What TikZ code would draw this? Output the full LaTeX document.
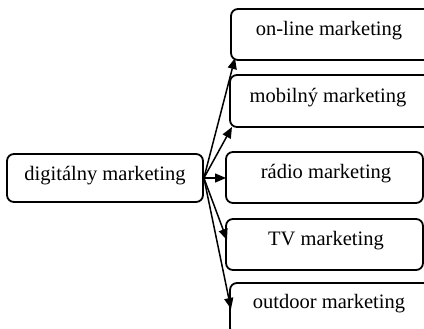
\documentclass[tikz,border=0pt]{standalone}
\usepackage{fontspec}
\setmainfont{Liberation Serif}
\usetikzlibrary{arrows.meta}
\begin{document}
\begin{tikzpicture}[x=1pt,y=-1pt,
  box/.style={draw=black,line width=1.8pt,rounded corners=7pt,inner sep=0pt},
  txt/.style={inner sep=0pt,font=\fontsize{20.5}{24}\selectfont},
  conn/.style={line width=1.5pt,-{Triangle[length=11pt,width=9pt]}}]
\useasboundingbox (0,0) rectangle (424,329);
\clip (0,0) rectangle (424,329);
\node[box,minimum width=196pt,minimum height=48pt] (dm) at (105,178) {};
\node[txt] (t0) at (105,176) {digitálny marketing};
\node[box,minimum width=200pt,minimum height=51pt] (b1) at (331,34.5) {};
\node[txt] (t1) at (329,30.5) {on-line marketing};
\node[box,minimum width=200pt,minimum height=52pt] (b2) at (330,101) {};
\node[txt] (t2) at (328,98) {mobilný marketing};
\node[box,minimum width=197pt,minimum height=51pt] (b3) at (324.5,177.5) {};
\node[txt] (t3) at (326,173.5) {rádio marketing};
\node[box,minimum width=197pt,minimum height=51pt] (b4) at (324.5,244.5) {};
\node[txt] (t4) at (326,240.5) {TV marketing};
\node[box,minimum width=200pt,minimum height=52pt] (b5) at (330,309) {};
\node[txt] (t5) at (329,304) {outdoor marketing};
\coordinate (e1) at (235,58);
\coordinate (e2) at (232,127);
\coordinate (e3) at (226,178);
\coordinate (e4) at (227,240);
\coordinate (e5) at (231,309);
\foreach \e in {e1,e2,e3,e4,e5} \draw[conn] (dm.east) -- (\e);
\end{tikzpicture}
\end{document}
